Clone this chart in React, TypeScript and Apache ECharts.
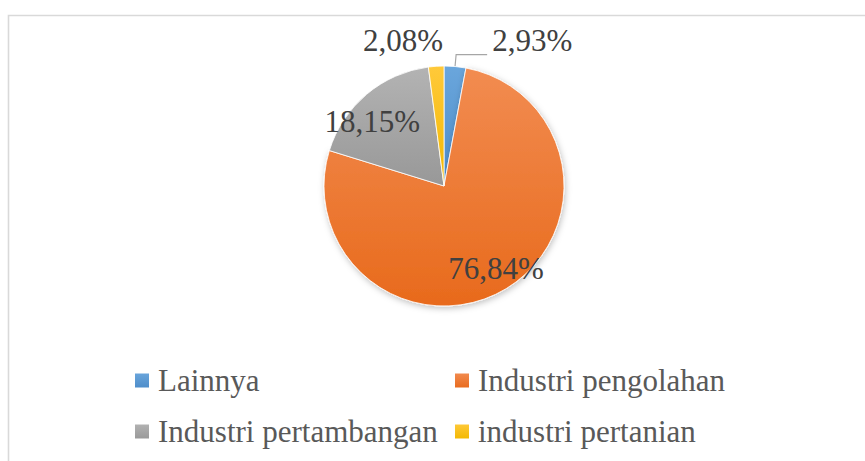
import React, { useEffect, useRef } from "react";
import * as echarts from "echarts";

const categories = ["Lainnya", "Industri pengolahan", "Industri pertambangan", "industri pertanian"];
const values = [2.93, 76.84, 18.15, 2.08];
const colorsTop = ["#6AA6DC", "#F28C51", "#B3B3B3", "#FFC93A"];
const colorsBottom = ["#4D8CC9", "#E86A1C", "#989898", "#F2B800"];

const CX = 444;
const CY = 186;
const R = 120;
const LABEL_FONT = "'Liberation Serif', serif";

function grad(i: number) {
  return new echarts.graphic.LinearGradient(0, 0, 0, 1, [
    { offset: 0, color: colorsTop[i] },
    { offset: 1, color: colorsBottom[i] },
  ]);
}

function buildOption() {
  const data = categories.map((name, i) => {
    const item: any = {
      name,
      value: values[i],
      itemStyle: { color: grad(i) },
    };
    if (i === 1 || i === 2) {
      item.label = { position: "inside" };
    } else {
      item.label = { position: "outside" };
    }
    if (i === 0) {
      item.labelLine = { show: true, length: 12, length2: 31 };
    }
    if (i === 3) {
      item.labelLine = { show: false, length: 15, length2: 0 };
    }
    if (i === 1) {
      item.itemStyle.shadowBlur = 6;
      item.itemStyle.shadowColor = "rgba(0,0,0,0.25)";
      item.itemStyle.shadowOffsetX = 1;
      item.itemStyle.shadowOffsetY = 2;
    }
    return item;
  });
  const legendText = {
    fontFamily: LABEL_FONT,
    fontSize: 31,
    color: "#595959",
    rich: {
      a: {
        fontFamily: LABEL_FONT,
        fontSize: 31,
        color: "#595959",
        padding: [0, 0, 0, 3],
      },
    },
  };
  const legendBase = {
    orient: "vertical",
    top: 365,
    padding: 0,
    itemWidth: 16,
    itemHeight: 16,
    itemGap: 20,
    icon: "rect",
    selectedMode: false,
    formatter: (name: string) => "{a|" + name + "}",
    textStyle: legendText,
  };
  return {
    animation: false,
    backgroundColor: "#ffffff",
    graphic: [
      {
        type: "rect",
        shape: { x: 8.5, y: 15.5, width: 900, height: 500 },
        style: { fill: "none", stroke: "#d9d9d9", lineWidth: 1.6 },
        silent: true,
      },
    ],
    legend: [
      { ...legendBase, left: 133, data: [categories[0], categories[2]] },
      { ...legendBase, left: 453, data: [categories[1], categories[3]] },
    ],
    series: [
      {
        type: "pie",
        center: [CX, CY],
        radius: [0, R],
        startAngle: 90,
        clockwise: true,
        avoidLabelOverlap: false,
        itemStyle: { borderColor: "#ffffff", borderWidth: 0.8 },
        label: {
          show: true,
          fontFamily: LABEL_FONT,
          fontSize: 31,
          color: "#404040",
          formatter: (p: any) => p.value.toFixed(2).replace(".", ",") + "%",
        },
        labelLine: { lineStyle: { color: "#a6a6a6", width: 1.2 } },
        labelLayout: (p: any) => {
          const r = p.labelRect;
          const lx = r.x + r.width / 2;
          const ly = r.y + r.height / 2;
          if (p.dataIndex === 1) {
            return { dx: (lx - CX) * 0.6, dy: (ly - CY) * 0.6 - 4 };
          }
          if (p.dataIndex === 2) {
            return { dx: -31, dy: -16 };
          }
          if (p.dataIndex === 3) {
            return { dx: 13, dy: -11 };
          }
          if (p.dataIndex === 0) {
            return { dy: -14 };
          }
          return {};
        },
        emphasis: { disabled: true },
        data,
      },
    ],
  };
}

export default function App() {
  const ref = useRef<HTMLDivElement>(null);
  useEffect(() => {
    if (!ref.current) return;
    const chart = echarts.init(ref.current, null, { renderer: "svg" });
    chart.setOption(buildOption() as any);
    return () => {
      chart.dispose();
    };
  }, []);
  return (
    <div
      ref={ref}
      style={{ position: "absolute", left: 0, top: 0, width: 865, height: 461 }}
    />
  );
}
